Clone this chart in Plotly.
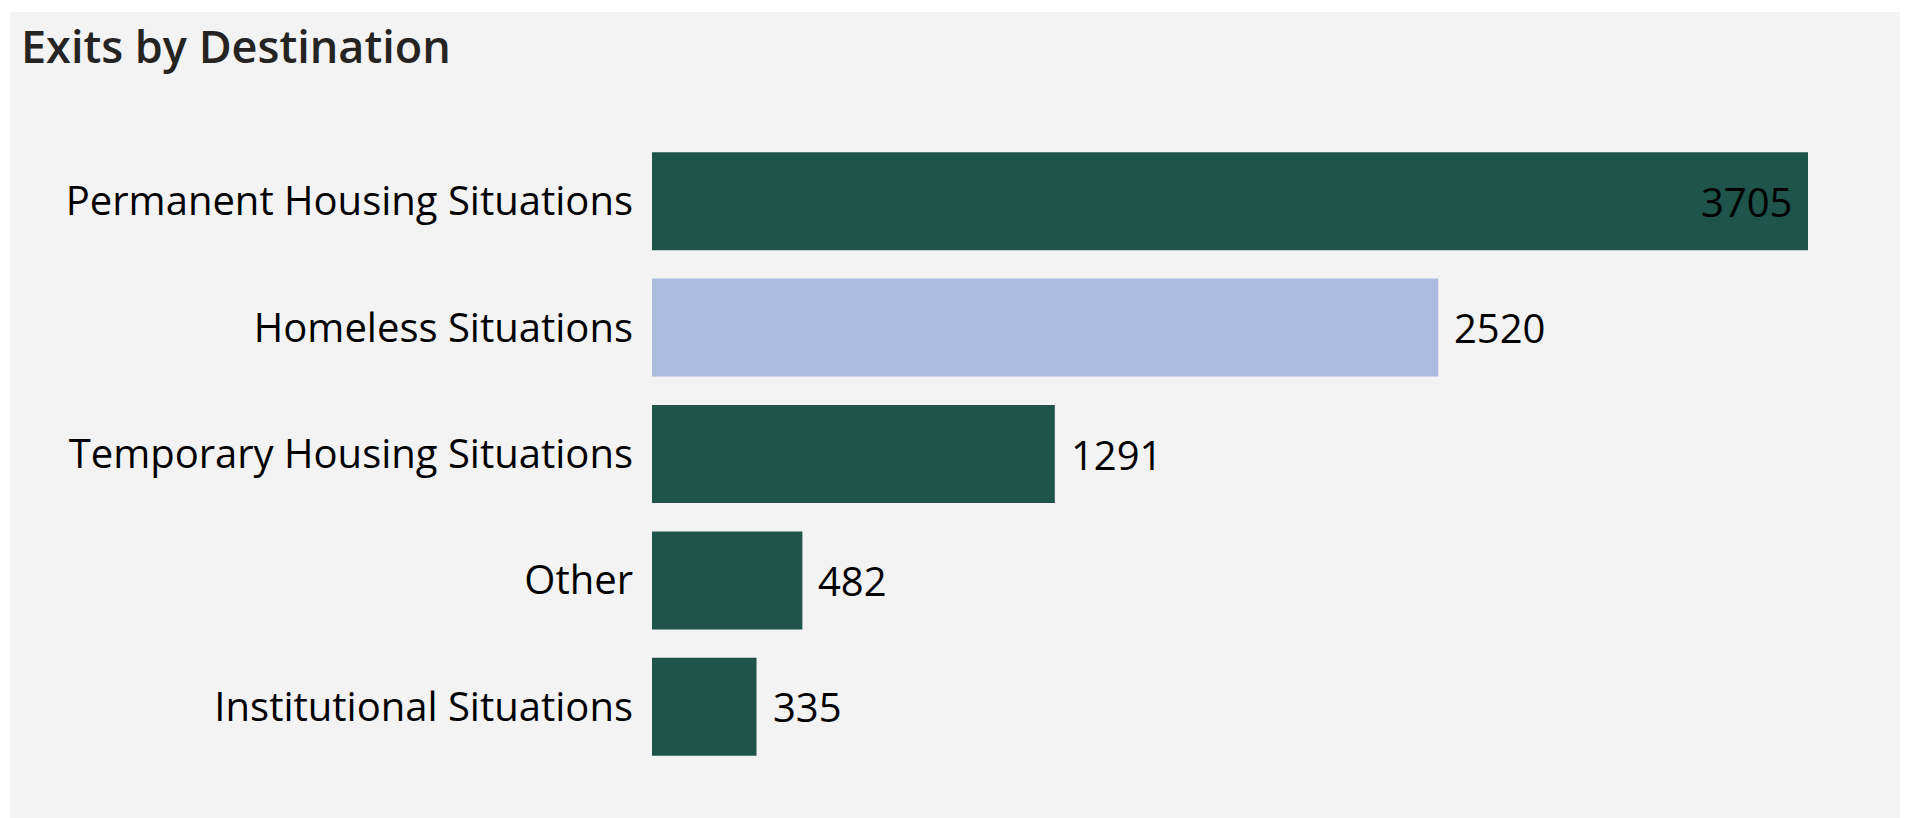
import plotly.graph_objects as go

categories = ["Permanent Housing Situations", "Homeless Situations",
              "Temporary Housing Situations", "Other", "Institutional Situations"]
values = [3705, 2520, 1291, 482, 335]
bar_colors = ["#1E5449", "#ABBBDD", "#1E5449", "#1E5449", "#1E5449"]
title_text = "Exits by Destination"

# page body has an 8px margin, so the figure is sized to the remaining viewport
W, H = 1900, 810
L, R, T, B = 644, 100, 130, 48
pw, ph = W - L - R, H - T - B

FONT = "Open Sans"

fig = go.Figure(go.Bar(
    x=values, y=categories, orientation="h",
    marker=dict(color=bar_colors, line=dict(width=0)),
    hoverinfo="x+y",
))

vmax = max(values)
for c, v in zip(categories, values):
    inside = v == vmax
    fig.add_annotation(
        x=v, y=c, xref="x", yref="y", text=str(v), showarrow=False,
        xanchor="right" if inside else "left",
        xshift=-14 if inside else 14,
        font=dict(family=FONT, size=40, color="#000000"),
    )

# panel background
fig.add_shape(type="rect", xref="paper", yref="paper", layer="below",
              x0=(2 - L) / pw, x1=(W + 10 - L) / pw,
              y0=(H - B - H - 10) / ph, y1=(H - B - 4) / ph,
              fillcolor="#F3F3F3", line=dict(width=0))

fig.update_layout(
    width=W, height=H,
    margin=dict(l=L, r=R, t=T, b=B, pad=0),
    paper_bgcolor="#FFFFFF", plot_bgcolor="rgba(0,0,0,0)",
    bargap=0.225,
    showlegend=False,
    title=dict(text=title_text, xref="container", yref="container",
               x=13 / W, xanchor="left", y=1 - 39 / H, yanchor="middle",
               font=dict(family=FONT, size=45, color="#252423", weight=600)),
    xaxis=dict(range=[0, vmax], showgrid=False, zeroline=False,
               showticklabels=False, showline=False, fixedrange=True),
    yaxis=dict(autorange="reversed", showgrid=False, zeroline=False,
               showline=False, ticks="outside", ticklen=10,
               tickcolor="rgba(0,0,0,0)",
               tickfont=dict(family=FONT, size=40, color="#000000")),
)

fig.write_html("out.html")
